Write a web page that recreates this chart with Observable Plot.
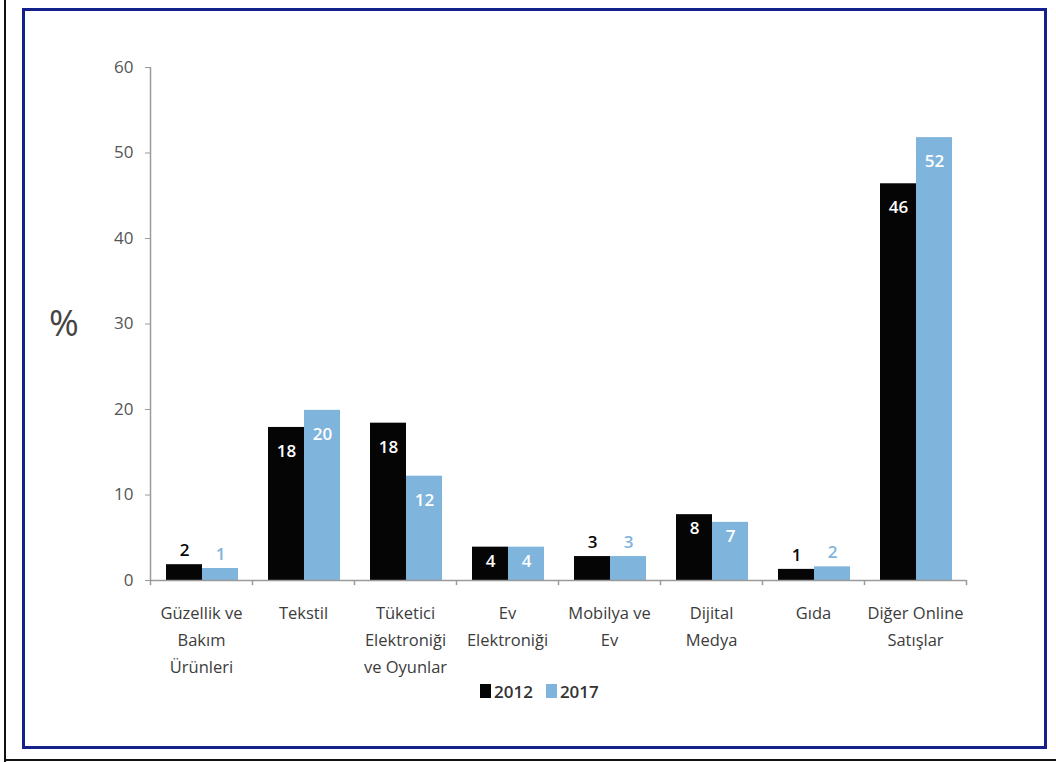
<!DOCTYPE html>
<html>
<head>
<meta charset="utf-8">
<script src="https://cdn.jsdelivr.net/npm/d3@7"></script>
<script src="https://cdn.jsdelivr.net/npm/@observablehq/plot@0.6"></script>
<style>
  body { margin: 0; background: #fff; font-family: "Open Sans", sans-serif; }
  #wrap { position: relative; width: 1056px; height: 762px; overflow: hidden; background: #fff; }
  #outerLeft { position: absolute; left: 4px; top: 0; width: 2px; height: 762px; background: #111; }
  #outerBottom { position: absolute; left: 4px; top: 759px; width: 1052px; height: 2px; background: #111; }
  #frame { position: absolute; left: 22px; top: 8px; width: 1025px; height: 741px; box-sizing: border-box; border: 3px solid #14218a; }
  #chart { position: absolute; left: 0; top: 0; }
  #pct { position: absolute; left: 49px; top: 305px; font-size: 36px; line-height: 1; color: #444; }
  #legend { position: absolute; left: 480px; top: 681px; height: 20px; display: flex; align-items: center; font-size: 17px; color: #333; font-weight: 600; }
  #legend .sw { display: inline-block; width: 11px; height: 14px; margin-right: 3px; }
  #legend .item { display: flex; align-items: center; margin-right: 13px; }
</style>
</head>
<body>
<div id="wrap">
  <div id="outerLeft"></div>
  <div id="outerBottom"></div>
  <div id="frame"></div>
  <div id="chart"></div>
  <div id="pct">%</div>
  <div id="legend"></div>
</div>
<script>
const categories = ["Güzellik ve Bakım Ürünleri", "Tekstil", "Tüketici Elektroniği ve Oyunlar", "Ev Elektroniği", "Mobilya ve Ev", "Dijital Medya", "Gıda", "Diğer Online Satışlar"];
const categoryLabels = ["Güzellik ve\nBakım\nÜrünleri", "Tekstil", "Tüketici\nElektroniği\nve Oyunlar", "Ev\nElektroniği", "Mobilya ve\nEv", "Dijital\nMedya", "Gıda", "Diğer Online\nSatışlar"];
const years = ["2012", "2017"];
const values2012 = [1.85, 17.9, 18.4, 3.9, 2.8, 7.7, 1.3, 46.4];
const values2017 = [1.4, 19.9, 12.2, 3.9, 2.8, 6.8, 1.6, 51.8];
const labels2012 = ["2", "18", "18", "4", "3", "8", "1", "46"];
const labels2017 = ["1", "20", "12", "4", "3", "7", "2", "52"];
const yTicks = [0, 10, 20, 30, 40, 50, 60];
const colors = {"2012": "#050505", "2017": "#7fb4dd"};

const rows = [];
categories.forEach((c, i) => {
  rows.push({cat: c, year: "2012", value: values2012[i], label: labels2012[i]});
  rows.push({cat: c, year: "2017", value: values2017[i], label: labels2017[i]});
});
const catRows = categories.map((c, i) => ({cat: c, text: categoryLabels[i]}));

function valueLabels(year, dx) {
  const r = rows.filter(d => d.year === year);
  const common = {x: "cat", y: "value", text: "label", dx, fontSize: 17, fontWeight: 600};
  return [
    Plot.text(r.filter(d => d.value >= 10), {...common, dy: 24, fill: "#fff"}),
    Plot.text(r.filter(d => d.value >= 3.5 && d.value < 10), {...common, dy: 14, fill: "#fff"}),
    Plot.text(r.filter(d => d.value < 3.5), {...common, dy: -14, fill: colors[year]})
  ];
}

const chart = Plot.plot({
  width: 1056,
  height: 700,
  marginLeft: 150,
  marginRight: 90,
  marginTop: 67,
  marginBottom: 120,
  style: {background: "transparent", fontFamily: "Open Sans, sans-serif"},
  x: {domain: categories, padding: 0, axis: null},
  y: {domain: [0, 60], axis: null},
  marks: [
    Plot.barY(rows.filter(d => d.year === "2012"), {x: "cat", y: "value", fill: colors["2012"], insetLeft: 16, insetRight: 50}),
    Plot.barY(rows.filter(d => d.year === "2017"), {x: "cat", y: "value", fill: colors["2017"], insetLeft: 52, insetRight: 14}),
    Plot.ruleX([categories[0]], {x: d => d, dx: -51, stroke: "#9a9a9a", strokeWidth: 1.5}),
    Plot.ruleY([0], {stroke: "#9a9a9a", strokeWidth: 1.5}),
    Plot.ruleX(categories, {x: d => d, y1: 0, y2: -0.6, dx: -51, stroke: "#9a9a9a", strokeWidth: 1.5}),
    Plot.ruleX([categories[categories.length - 1]], {x: d => d, y1: 0, y2: -0.6, dx: 51, stroke: "#9a9a9a", strokeWidth: 1.5}),
    Plot.axisY({ticks: yTicks, tickSize: 5, tickPadding: 12, stroke: "#9a9a9a", fill: "#555", fontSize: 17, label: null, tickFormat: d => String(d)}),
    Plot.text(catRows, {x: "cat", y: () => 0, text: "text", lineAnchor: "top", dy: 19, lineHeight: 1.65, fontSize: 16.5, fill: "#3c3c3c"}),
    ...valueLabels("2012", -17),
    ...valueLabels("2017", 19)
  ]
});
document.getElementById("chart").appendChild(chart);

const legend = document.getElementById("legend");
years.forEach(y => {
  const item = document.createElement("div");
  item.className = "item";
  const sw = document.createElement("span");
  sw.className = "sw";
  sw.style.background = colors[y];
  const t = document.createElement("span");
  t.textContent = y;
  item.appendChild(sw);
  item.appendChild(t);
  legend.appendChild(item);
});
</script>
</body>
</html>
